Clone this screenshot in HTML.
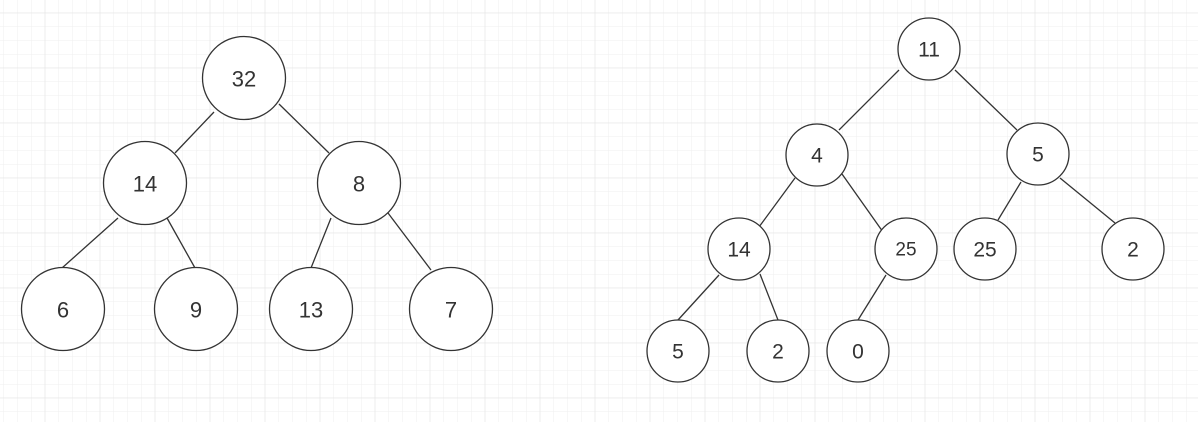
<!DOCTYPE html>
<html><head><meta charset="utf-8"><style>
html,body{margin:0;padding:0;background:#fff;}
svg{display:block;}
text{font-family:"Liberation Sans",sans-serif;fill:#333;text-anchor:middle;dominant-baseline:central;}
</style></head><body>
<svg width="1198" height="422" viewBox="0 0 1198 422" xmlns="http://www.w3.org/2000/svg">
<defs>
<pattern id="minor" x="3.5" y="-1" width="13.75" height="13.75" patternUnits="userSpaceOnUse">
<path d="M0 0V13.75M0 0H13.75" stroke="#efefef" stroke-width="1" fill="none"/>
</pattern>
<pattern id="major" x="-10.25" y="12.7" width="55" height="55" patternUnits="userSpaceOnUse">
<path d="M0 0V55M0 0H55" stroke="#e3e3e3" stroke-width="1" fill="none"/>
</pattern>
</defs>
<rect width="1198" height="422" fill="url(#minor)"/>
<rect width="1198" height="422" fill="url(#major)"/>
<g stroke="#333" stroke-width="1.3" fill="none">
<line x1="214" y1="112" x2="175" y2="153"/>
<line x1="279" y1="104" x2="329" y2="153"/>
<line x1="118" y1="218" x2="62" y2="268"/>
<line x1="167" y1="218" x2="195" y2="268"/>
<line x1="331" y1="218" x2="311" y2="268"/>
<line x1="388" y1="213" x2="431" y2="270"/>
<line x1="899" y1="70" x2="839" y2="130"/>
<line x1="955" y1="70" x2="1017" y2="130"/>
<line x1="795" y1="178" x2="759" y2="227"/>
<line x1="842" y1="174" x2="883" y2="232"/>
<line x1="1021" y1="182" x2="998" y2="220"/>
<line x1="1060" y1="178" x2="1115" y2="223"/>
<line x1="719" y1="275" x2="678" y2="320"/>
<line x1="760" y1="274" x2="778" y2="320"/>
<line x1="886" y1="275" x2="858" y2="320"/>
</g>
<g stroke="#333" stroke-width="1.3" fill="#fff">
<circle cx="244" cy="78" r="41.5"/>
<circle cx="145" cy="183" r="41.5"/>
<circle cx="359" cy="183" r="41.5"/>
<circle cx="63" cy="309" r="41.5"/>
<circle cx="196" cy="309" r="41.5"/>
<circle cx="311" cy="309" r="41.5"/>
<circle cx="451" cy="309" r="41.5"/>
<circle cx="929" cy="49" r="31"/>
<circle cx="817" cy="155" r="31"/>
<circle cx="1038" cy="154" r="31"/>
<circle cx="739" cy="249" r="31"/>
<circle cx="906" cy="249" r="31"/>
<circle cx="985" cy="249" r="31"/>
<circle cx="1133" cy="249" r="31"/>
<circle cx="678" cy="351" r="31"/>
<circle cx="778" cy="351" r="31"/>
<circle cx="858" cy="351" r="31"/>
</g>
<g font-size="22">
<text x="244" y="79">32</text>
<text x="145" y="184">14</text>
<text x="359" y="184">8</text>
<text x="63" y="310">6</text>
<text x="196" y="310">9</text>
<text x="311" y="310">13</text>
<text x="451" y="310">7</text>
</g>
<g font-size="21">
<text x="929" y="50">11</text>
<text x="817" y="156">4</text>
<text x="1038" y="155">5</text>
<text x="739" y="250">14</text>
<text x="906" y="250" font-size="19">25</text>
<text x="985" y="250">25</text>
<text x="1133" y="250">2</text>
<text x="678" y="352">5</text>
<text x="778" y="352">2</text>
<text x="858" y="352">0</text>
</g>
</svg>
</body></html>
